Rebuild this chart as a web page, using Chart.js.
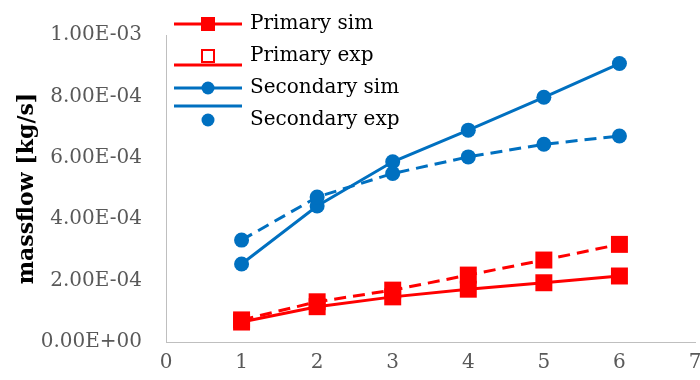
<!DOCTYPE html>
<html>
<head>
<meta charset="utf-8">
<script src="https://cdn.jsdelivr.net/npm/chart.js@4.4.0/dist/chart.umd.min.js"></script>
<style>
  body { margin: 0; background: #fff; }
  #wrap { width: 700px; height: 380px; }
</style>
</head>
<body>
<div id="wrap"><canvas id="flow" width="700" height="380"></canvas></div>
<script>
// values
var xValues = [1, 2, 3, 4, 5, 6];
var primarySim = [6.5e-5, 1.15e-4, 1.47e-4, 1.72e-4, 1.93e-4, 2.15e-4];
var primaryExp = [7.2e-5, 1.31e-4, 1.69e-4, 2.18e-4, 2.67e-4, 3.18e-4];
var secondarySim = [2.54e-4, 4.43e-4, 5.87e-4, 6.90e-4, 7.97e-4, 9.07e-4];
var secondaryExp = [3.32e-4, 4.72e-4, 5.49e-4, 6.03e-4, 6.44e-4, 6.71e-4];
var seriesNames = ['Primary sim', 'Primary exp', 'Secondary sim', 'Secondary exp'];
var xTicks = [0, 1, 2, 3, 4, 5, 6, 7];
var yTicks = [0, 2e-4, 4e-4, 6e-4, 8e-4, 1e-3];
var yTitle = 'massflow [kg/s]';

var RED = '#FF0000';
var BLUE = '#0070C0';
var FONT = '"DejaVu Serif", "Liberation Serif", serif';

function pts(values) {
    return xValues.map(function (x, i) { return { x: x, y: values[i] }; });
}

function sci(v) {
    var s = Number(v).toExponential(2).split('e');
    var e = parseInt(s[1], 10);
    return s[0] + 'E' + (e < 0 ? '-' : '+') + String(Math.abs(e)).padStart(2, '0');
}

function series(i, values, color, shape, dashed, radius, order) {
    return {
        label: seriesNames[i],
        data: pts(values),
        borderColor: color,
        backgroundColor: color,
        borderWidth: 3,
        borderDash: dashed ? [12, 7] : [],
        pointStyle: shape,
        pointRadius: radius,
        pointHoverRadius: radius,
        pointBorderWidth: 0,
        tension: 0,
        order: order
    };
}

// legend drawn like the excel one (line + marker, lines somewhat offset)
var legendRows = [24, 56, 88, 120];
var legendLineShift = [0, 9, 0, -14];
var legendHollow = [false, true, false, false];

var excelLegend = {
    id: 'excelLegend',
    afterDraw: function (chart) {
        var ctx = chart.ctx;
        chart.data.datasets.forEach(function (ds, i) {
            var y = legendRows[i];
            var ly = y + legendLineShift[i];
            ctx.save();
            ctx.strokeStyle = ds.borderColor;
            ctx.lineWidth = 3;
            ctx.beginPath();
            ctx.moveTo(174, ly);
            ctx.lineTo(242, ly);
            ctx.stroke();
            if (ds.pointStyle === 'rect') {
                if (legendHollow[i]) {
                    ctx.fillStyle = '#fff';
                    ctx.fillRect(202, y - 6, 12, 12);
                    ctx.lineWidth = 2;
                    ctx.strokeRect(202, y - 6, 12, 12);
                } else {
                    ctx.fillStyle = ds.backgroundColor;
                    ctx.fillRect(201, y - 7, 14, 14);
                }
            } else {
                ctx.fillStyle = ds.backgroundColor;
                ctx.beginPath();
                ctx.arc(208, y, 6.5, 0, Math.PI * 2);
                ctx.fill();
            }
            ctx.fillStyle = '#000';
            ctx.font = '20px ' + FONT;
            ctx.textBaseline = 'middle';
            ctx.textAlign = 'left';
            ctx.fillText(ds.label, 250, y);
            ctx.restore();
        });
    }
};

var ctx = document.getElementById('flow').getContext('2d');
var chart = new Chart(ctx, {
    type: 'line',
    data: {
        datasets: [
            series(0, primarySim, RED, 'rect', false, 12, 4),
            series(1, primaryExp, RED, 'rect', true, 12, 3),
            series(2, secondarySim, BLUE, 'circle', false, 7.5, 2),
            series(3, secondaryExp, BLUE, 'circle', true, 7.5, 1)
        ]
    },
    options: {
        responsive: false,
        animation: false,
        maintainAspectRatio: false,
        layout: { autoPadding: false, padding: { top: 35, right: 5, left: 0, bottom: 0 } },
        plugins: {
            legend: { display: false },
            tooltip: { enabled: false }
        },
        scales: {
            x: {
                type: 'linear',
                min: xTicks[0],
                max: xTicks[xTicks.length - 1],
                afterBuildTicks: function (s) { s.ticks = xTicks.map(function (v) { return { value: v }; }); },
                afterFit: function (s) { s.height = 38; s.paddingLeft = 0; s.paddingRight = 0; },
                grid: { display: false, drawTicks: false },
                border: { display: true, color: '#BFBFBF', width: 1 },
                ticks: {
                    color: '#595959',
                    padding: 9,
                    font: { family: FONT, size: 20 }
                }
            },
            y: {
                min: yTicks[0],
                max: yTicks[yTicks.length - 1],
                afterBuildTicks: function (s) { s.ticks = yTicks.map(function (v) { return { value: v }; }); },
                afterFit: function (s) { s.width = 166; s.paddingTop = 0; s.paddingBottom = 0; },
                grid: { display: false, drawTicks: false },
                border: { display: true, color: '#BFBFBF', width: 1 },
                ticks: {
                    color: '#595959',
                    padding: 24,
                    font: { family: FONT, size: 20 },
                    callback: function (v) { return sci(v); }
                },
                title: {
                    display: true,
                    text: yTitle,
                    color: '#000',
                    padding: { top: 14 },
                    font: { family: FONT, size: 22, weight: 'bold' }
                }
            }
        }
    },
    plugins: [excelLegend]
});
</script>
</body>
</html>
